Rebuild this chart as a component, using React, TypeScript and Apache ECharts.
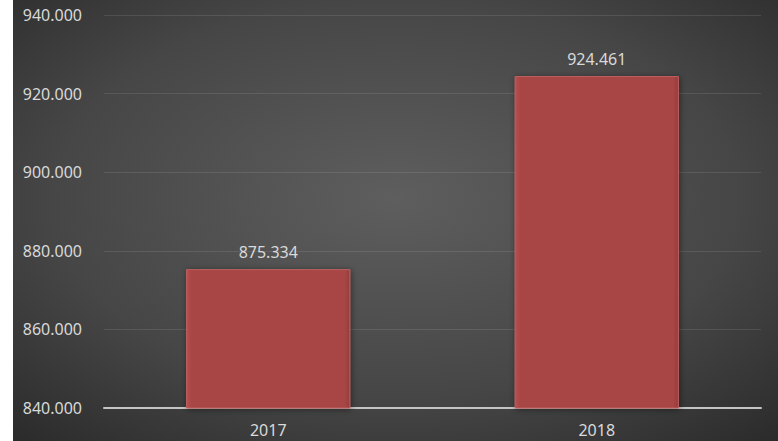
import React, { useEffect, useRef } from "react";
import * as echarts from "echarts";

const categories = ["2017", "2018"];
const values = [875.334, 924.461];
const yMin = 840;
const yMax = 940;
const yInterval = 20;

export default function App() {
  const ref = useRef<HTMLDivElement>(null);
  useEffect(() => {
    document.body.style.margin = "0";
    const chart = echarts.init(ref.current!, null, { renderer: "svg" });
    const font = "'Noto Sans', sans-serif";
    chart.setOption({
      animation: false,
      backgroundColor: "#ffffff",
      graphic: [
        {
          type: "rect",
          left: 13,
          top: 0,
          z: -10,
          silent: true,
          shape: { width: 765, height: 441 },
          style: {
            fill: new echarts.graphic.RadialGradient(0.5, 0.45, 0.75, [
              { offset: 0, color: "#5e5e5e" },
              { offset: 0.6, color: "#464646" },
              { offset: 1, color: "#2a2a2a" },
            ]),
          },
        },
      ],
      grid: { left: 104, right: 17, top: 15, bottom: 33 },
      xAxis: {
        type: "category",
        data: categories,
        axisLine: { lineStyle: { color: "#c4c4c4", width: 2 } },
        axisTick: { show: false },
        axisLabel: { color: "#d9d9d9", fontSize: 16, fontFamily: font, margin: 14 },
      },
      yAxis: {
        type: "value",
        min: yMin,
        max: yMax,
        interval: yInterval,
        axisLine: { show: false },
        axisTick: { show: false },
        splitLine: { lineStyle: { color: "rgba(255,255,255,0.1)", width: 1 } },
        axisLabel: {
          color: "#d9d9d9",
          fontSize: 16,
          fontFamily: font,
          margin: 22,
          formatter: (v: number) => v.toFixed(3),
        },
      },
      series: [
        {
          type: "bar",
          data: values,
          barWidth: "50%",
          itemStyle: {
            color: new echarts.graphic.LinearGradient(0, 0, 1, 0, [
              { offset: 0, color: "#b85050" },
              { offset: 0.03, color: "#a84545" },
              { offset: 0.97, color: "#a84545" },
              { offset: 1, color: "#943c3c" },
            ]),
            borderColor: "#c06060",
            borderWidth: 1,
            shadowColor: "rgba(0,0,0,0.45)",
            shadowBlur: 6,
            shadowOffsetX: 1,
            shadowOffsetY: 1,
          },
          label: {
            show: true,
            position: "top",
            distance: 9,
            color: "#d9d9d9",
            fontSize: 16,
            fontFamily: font,
            formatter: (p: any) => (p.value as number).toFixed(3),
          },
        },
      ],
    });
    return () => chart.dispose();
  }, []);
  return <div ref={ref} style={{ width: 778, height: 441 }} />;
}
